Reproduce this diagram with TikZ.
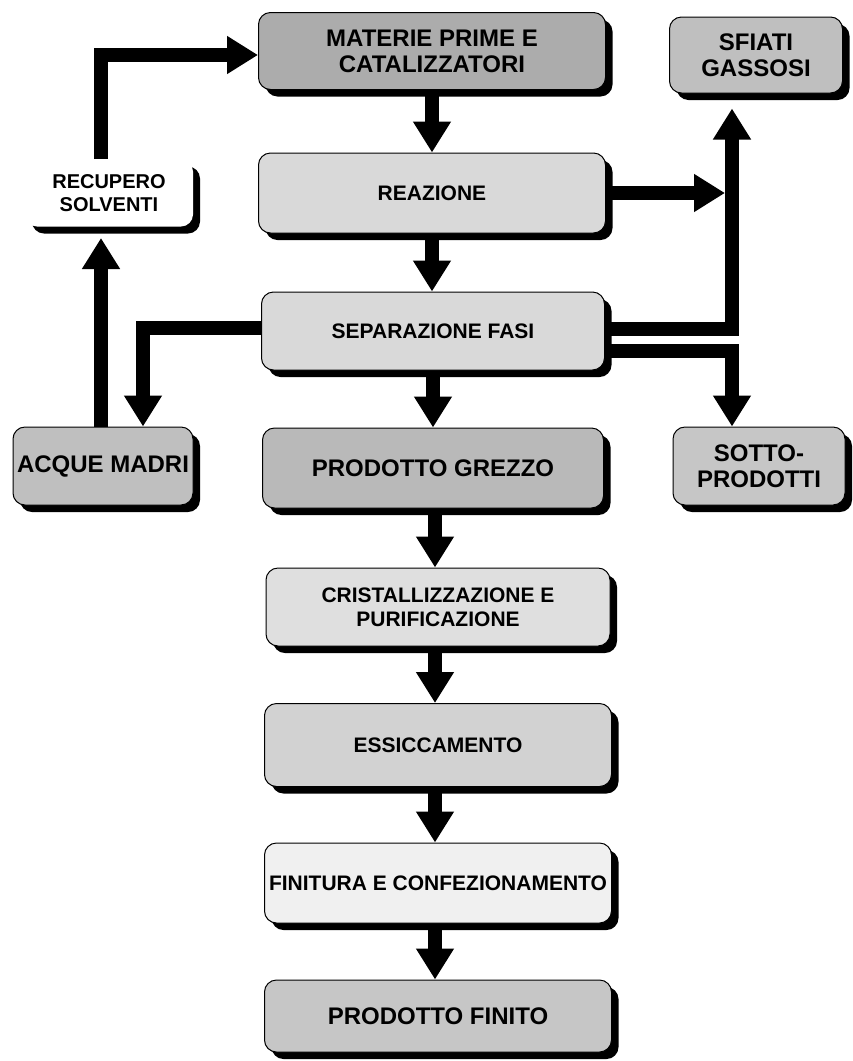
\documentclass[tikz,border=0pt]{standalone}
\usepackage{fontspec}
\setmainfont{Liberation Sans}
\usetikzlibrary{arrows.meta,shadows}
\begin{document}
\begin{tikzpicture}[x=1pt,y=-1pt,
  box/.style={draw=black, line width=1pt, rounded corners=12pt, inner sep=0pt, align=center,
    font=\bfseries\fontsize{24}{26}\selectfont,
    drop shadow={shadow xshift=7pt, shadow yshift=-7pt, fill=black, opacity=1}},
  smalltxt/.style={font=\bfseries\fontsize{21}{24}\selectfont},
  arr/.style={line width=14pt, -{Triangle[width=36pt,length=31pt]}}]
\useasboundingbox (0,0) rectangle (853,1061);
% nodes
\node[box, fill=gray!65, minimum width=347pt, minimum height=77pt] (mat) at (432,51) {MATERIE PRIME E\\CATALIZZATORI};
\node[box, fill=gray!50, minimum width=173pt, minimum height=76pt] (sfi) at (756,55) {SFIATI\\GASSOSI};
\node[box, draw=none, fill=white, minimum width=168pt, minimum height=67pt, font=\bfseries\fontsize{20}{23}\selectfont] (rec) at (109,193) {RECUPERO\\SOLVENTI};
\node[box, smalltxt, fill=gray!30, minimum width=347pt, minimum height=80pt] (rea) at (432,193) {REAZIONE};
\node[box, smalltxt, fill=gray!30, minimum width=343pt, minimum height=78pt] (sep) at (433,331) {SEPARAZIONE FASI};
\node[box, fill=gray!50, minimum width=180pt, minimum height=78pt] (acq) at (103,466) {ACQUE MADRI};
\node[box, fill=gray!55, minimum width=341pt, minimum height=80pt] (grz) at (433,468) {PRODOTTO GREZZO};
\node[box, fill=gray!45, minimum width=172pt, minimum height=78pt] (sot) at (759,466) {SOTTO-\\PRODOTTI};
\node[box, smalltxt, fill=gray!25, minimum width=344pt, minimum height=78pt] (cri) at (438,607) {CRISTALLIZZAZIONE E\\PURIFICAZIONE};
\node[box, smalltxt, fill=gray!35, minimum width=347pt, minimum height=83pt] (ess) at (438,745) {ESSICCAMENTO};
\node[box, smalltxt, fill=gray!12, minimum width=347pt, minimum height=80pt] (fin) at (438,883) {FINITURA E CONFEZIONAMENTO};
\node[box, fill=gray!45, minimum width=347pt, minimum height=72pt] (fnt) at (438,1016) {PRODOTTO FINITO};
% main chain
\draw[arr] (mat.south) -- (mat.south |- rea.north);
\draw[arr] (rea.south) -- (rea.south |- sep.north);
\draw[arr] (sep.south) -- (sep.south |- grz.north);
\draw[arr] ([xshift=2pt]grz.south) -- ([xshift=2pt]grz.south |- cri.north);
\draw[arr] ([xshift=-3pt]cri.south) -- ([xshift=-3pt]cri.south |- ess.north);
\draw[arr] ([xshift=-3pt]ess.south) -- ([xshift=-3pt]ess.south |- fin.north);
\draw[arr] ([xshift=-3pt]fin.south) -- ([xshift=-3pt]fin.south |- fnt.north);
% side branches
\draw[arr] ([yshift=2pt]sep.east) -| ([xshift=-24pt,yshift=-15pt]sfi.south);
\draw[arr] (rea.east) -- ([xshift=-31pt]rea.east -| sfi.south);
\draw[arr] ([yshift=-20pt]sep.east) -| ([xshift=-27pt]sot.north);
\draw[arr] ([yshift=3pt]sep.west) -| ([xshift=40pt]acq.north);
\draw[arr] ([xshift=-2pt]acq.north) -- ([xshift=-2pt,yshift=-11pt]acq.north |- rec.south);
\draw[arr] ([xshift=-8pt]rec.north) |- ([yshift=-4pt]mat.west);
\end{tikzpicture}
\end{document}
